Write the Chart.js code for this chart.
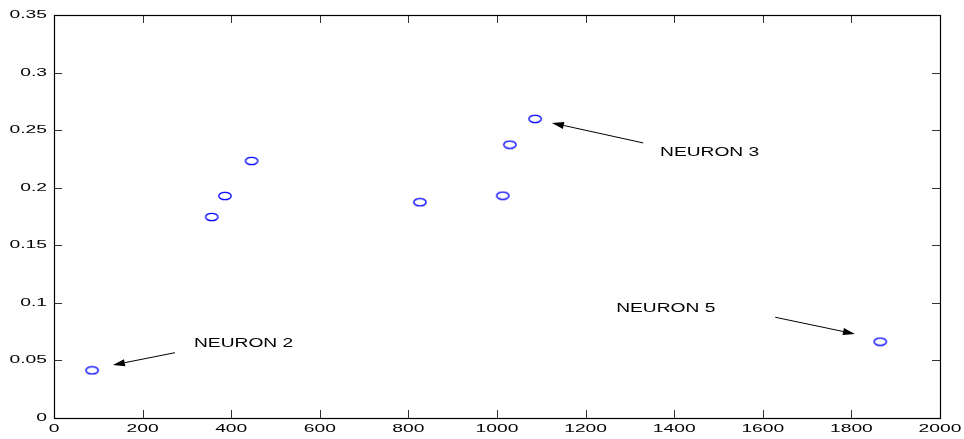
<!DOCTYPE html>
<html>
<head>
<meta charset="utf-8">
<script src="https://cdn.jsdelivr.net/npm/chart.js@4.4.1/dist/chart.umd.min.js"></script>
<style>
  html, body { margin: 0; padding: 0; background: #fff; }
  #wrap { width: 964px; height: 439px; }
</style>
</head>
<body>
<div id="wrap"><canvas id="myChart" width="964" height="439"></canvas></div>
<script>
// data
const xVals = [86, 356, 386, 446, 826, 1013, 1029, 1086, 1865];
const yVals = [0.0414, 0.1746, 0.1929, 0.2233, 0.1874, 0.1931, 0.2374, 0.2598, 0.0663];

const xTickLabels = ['0', '200', '400', '600', '800', '1000', '1200', '1400', '1600', '1800', '2000'];
const yTickLabels = ['0', '0.05', '0.1', '0.15', '0.2', '0.25', '0.3', '0.35'];

// annotations (data units)
const noteLabels = ['NEURON 2', 'NEURON 3', 'NEURON 5'];
const noteX = [316, 1368, 1269];
const noteY = [0.0645, 0.2305, 0.0947];
const arrowFromX = [273, 1330, 1628];
const arrowFromY = [0.0567, 0.2389, 0.0875];
const arrowToX = [133, 1124, 1808];
const arrowToY = [0.046, 0.2563, 0.073];

// squashed circle marker, like the picture
const marker = document.createElement('canvas');
marker.width = 16;
marker.height = 10;
(function(){
    const c = marker.getContext('2d');
    c.strokeStyle = '#0000ff';
    c.lineWidth = 1.3;
    c.beginPath();
    c.ellipse(8, 5, 6.2, 3.7, 0, 0, Math.PI * 2);
    c.stroke();
})();

const FONT = "'Liberation Sans', Arial, Helvetica, sans-serif";

function stretchText(ctx, txt, x, y, sx, align) {
    ctx.save();
    ctx.translate(x, y);
    ctx.scale(sx, 1);
    ctx.textAlign = align;
    ctx.fillText(txt, 0, 0);
    ctx.restore();
}

const matlabAxes = {
    id: 'matlabAxes',
    afterDraw(chart) {
        const ctx = chart.ctx;
        const a = chart.chartArea;
        const xs = chart.scales.x, ys = chart.scales.y;
        ctx.save();

        // ticks, inward on all four sides
        ctx.strokeStyle = '#333';
        ctx.lineWidth = 1;
        ctx.beginPath();
        xTickLabels.forEach(function(l){
            const px = Math.round(xs.getPixelForValue(parseFloat(l))) + 0.5;
            ctx.moveTo(px, a.bottom); ctx.lineTo(px, a.bottom - 8);
            ctx.moveTo(px, a.top); ctx.lineTo(px, a.top + 8);
        });
        yTickLabels.forEach(function(l){
            const py = Math.round(ys.getPixelForValue(parseFloat(l))) + 0.5;
            ctx.moveTo(a.left, py); ctx.lineTo(a.left + 8, py);
            ctx.moveTo(a.right, py); ctx.lineTo(a.right - 8, py);
        });
        ctx.stroke();

        // box
        ctx.strokeStyle = '#000';
        ctx.lineWidth = 1.2;
        ctx.strokeRect(a.left + 0.5, a.top + 0.5, a.right - a.left, a.bottom - a.top);

        // tick labels
        ctx.fillStyle = '#000';
        ctx.font = '11px ' + FONT;
        ctx.textBaseline = 'middle';
        xTickLabels.forEach(function(l){
            stretchText(ctx, l, xs.getPixelForValue(parseFloat(l)), a.bottom + 11, 1.75, 'center');
        });
        yTickLabels.forEach(function(l){
            stretchText(ctx, l, a.left - 7, ys.getPixelForValue(parseFloat(l)), 1.75, 'right');
        });

        // annotations
        ctx.font = '12px ' + FONT;
        noteLabels.forEach(function(l, i){
            stretchText(ctx, l, xs.getPixelForValue(noteX[i]), ys.getPixelForValue(noteY[i]), 1.6, 'left');

            const x0 = xs.getPixelForValue(arrowFromX[i]), y0 = ys.getPixelForValue(arrowFromY[i]);
            const x1 = xs.getPixelForValue(arrowToX[i]), y1 = ys.getPixelForValue(arrowToY[i]);
            const ang = Math.atan2(y1 - y0, x1 - x0);
            const hl = 12, hw = 3.5;
            ctx.strokeStyle = '#000';
            ctx.lineWidth = 1;
            ctx.beginPath();
            ctx.moveTo(x0, y0);
            ctx.lineTo(x1 - Math.cos(ang) * hl, y1 - Math.sin(ang) * hl);
            ctx.stroke();
            ctx.beginPath();
            ctx.moveTo(x1, y1);
            ctx.lineTo(x1 - Math.cos(ang) * hl - Math.sin(ang) * hw, y1 - Math.sin(ang) * hl + Math.cos(ang) * hw);
            ctx.lineTo(x1 - Math.cos(ang) * hl + Math.sin(ang) * hw, y1 - Math.sin(ang) * hl - Math.cos(ang) * hw);
            ctx.closePath();
            ctx.fillStyle = '#000';
            ctx.fill();
        });

        ctx.restore();
    }
};

const points = xVals.map(function(x, i){ return { x: x, y: yVals[i] }; });

const myChart = document.querySelector('#myChart').getContext('2d');
const chart = new Chart(myChart, {
    type: 'scatter',
    data: {
        datasets: [{
            label: 'neurons',
            data: points,
            pointStyle: marker,
            pointRadius: 6,
            pointHoverRadius: 6
        }]
    },
    options: {
        responsive: false,
        animation: false,
        layout: { padding: { top: 15, right: 24, left: 0, bottom: 0 } },
        plugins: {
            legend: { display: false },
            tooltip: { enabled: false }
        },
        scales: {
            x: {
                type: 'linear',
                min: 0,
                max: 2000,
                ticks: { display: false, stepSize: 200 },
                grid: { display: false },
                border: { display: false },
                afterFit: function(scale){ scale.height = 21; }
            },
            y: {
                type: 'linear',
                min: 0,
                max: 0.35,
                ticks: { display: false, stepSize: 0.05 },
                grid: { display: false },
                border: { display: false },
                afterFit: function(scale){ scale.width = 54; }
            }
        }
    },
    plugins: [matlabAxes]
});
</script>
</body>
</html>
